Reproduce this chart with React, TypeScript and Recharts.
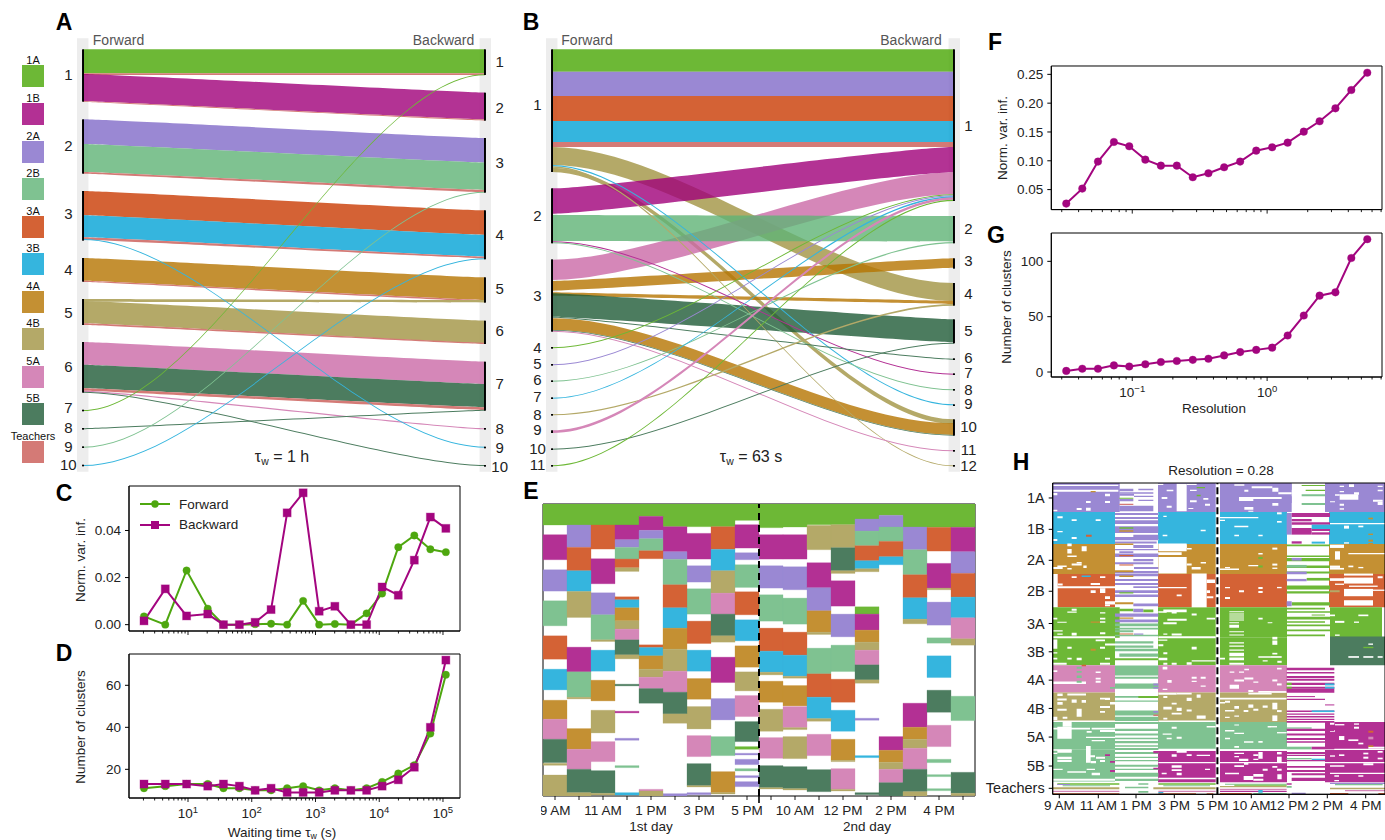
import React from "react";
import {
  ComposedChart,
  LineChart,
  Area,
  Bar,
  Cell,
  Line,
  Legend,
  XAxis,
  YAxis,
  ReferenceArea,
  ReferenceLine,
} from "recharts";

const FONT = "'Liberation Sans', Arial, sans-serif";
const INK = "#222222";
const GREEN = "#4ea70f";
const PURPLE = "#a3057f";

const classes = ["1A", "1B", "2A", "2B", "3A", "3B", "4A", "4B", "5A", "5B", "T"];
const classColors: Record<string, string> = {
  "1A": "#6db836",
  "1B": "#b33094",
  "2A": "#9a88d3",
  "2B": "#7fc291",
  "3A": "#d46235",
  "3B": "#35b5de",
  "4A": "#c49033",
  "4B": "#b4a968",
  "5A": "#d587b8",
  "5B": "#4c7c5f",
  T: "#d47a76",
};

// flows: class, forward top, forward bottom, backward top, backward bottom
const flowsA: [string, number, number, number, number][] = [
  ["1A", 148, 220, 148, 220],
  ["T", 220, 225, 220, 225],
  ["1B", 222, 304, 278, 358],
  ["T", 304, 306, 358, 362],
  ["2A", 358, 432, 414, 488],
  ["2B", 432, 516, 488, 570],
  ["T", 516, 521, 570, 577],
  ["3A", 573, 646, 631, 705],
  ["3B", 646, 712, 705, 770],
  ["T", 712, 719, 770, 775],
  ["4A", 774, 842, 832, 900],
  ["T", 842, 846, 900, 904],
  ["4B", 903, 970, 962, 1030],
  ["4B", 897, 905, 900, 908],
  ["T", 970, 975, 1028, 1032],
  ["5A", 1026, 1094, 1085, 1152],
  ["5B", 1094, 1165, 1152, 1222],
  ["T", 1165, 1172, 1222, 1230],
  ["5A", 1172, 1176, 1285, 1288],
  ["5B", 1175, 1178, 1395, 1398],
  ["3B", 717, 720, 1340, 1343],
  ["1A", 1230, 1233, 223, 226],
  ["5B", 1285, 1288, 1229, 1232],
  ["2B", 1340, 1343, 575, 578],
  ["3B", 1395, 1398, 775, 778],
];
const modulesLeftA = [[148, 305], [358, 521], [573, 722], [774, 845], [897, 975], [1026, 1178], [1229, 1234], [1284, 1289], [1339, 1344], [1394, 1399]];
const modulesRightA = [[148, 225], [278, 362], [414, 578], [631, 778], [832, 908], [962, 1032], [1085, 1232], [1284, 1289], [1340, 1345], [1395, 1400]];
const labelsLeftA = [226, 437, 643, 810, 938, 1100, 1225, 1285, 1340, 1395];
const labelsRightA = [185, 325, 490, 705, 868, 993, 1152, 1287, 1343, 1400];

const flowsB: [string, number, number, number, number][] = [
  ["1A", 148, 215, 148, 215],
  ["2A", 215, 288, 215, 288],
  ["3A", 288, 363, 288, 363],
  ["3B", 363, 426, 363, 426],
  ["T", 426, 441, 426, 441],
  ["4B", 441, 495, 849, 903],
  ["4B", 503, 516, 1258, 1272],
  ["5A", 779, 840, 517, 583],
  ["1B", 565, 641, 441, 517],
  ["2B", 645, 723, 648, 725],
  ["4A", 843, 872, 775, 803],
  ["4A", 877, 887, 903, 912],
  ["5B", 880, 950, 958, 1027],
  ["4A", 955, 990, 1270, 1305],
  ["5B", 990, 992, 1305, 1307],
  ["3B", 495, 499, 1213, 1216],
  ["4B", 499, 503, 1396, 1399],
  ["1B", 724, 727, 1121, 1124],
  ["2B", 727, 730, 1168, 1171],
  ["5B", 950, 953, 1076, 1079],
  ["5A", 992, 995, 1351, 1354],
  ["1A", 1042, 1045, 583, 586],
  ["2A", 1093, 1096, 586, 589],
  ["2B", 1142, 1145, 726, 730],
  ["3B", 1193, 1196, 589, 593],
  ["4B", 1243, 1246, 912, 917],
  ["5A", 1291, 1299, 592, 599],
  ["5B", 1346, 1349, 1028, 1031],
  ["1A", 1396, 1399, 599, 603],
];
const modulesLeftB = [[148, 516], [565, 730], [778, 995], [1041, 1046], [1092, 1097], [1141, 1146], [1192, 1197], [1242, 1247], [1291, 1299], [1345, 1350], [1395, 1400]];
const modulesRightB = [[148, 603], [648, 730], [775, 806], [849, 917], [958, 1030], [1075, 1080], [1120, 1125], [1167, 1172], [1213, 1218], [1258, 1307], [1350, 1355], [1395, 1400]];
const labelsLeftB = [315, 648, 888, 1045, 1093, 1140, 1192, 1245, 1290, 1347, 1395];
const labelsRightB = [378, 688, 782, 882, 993, 1073, 1120, 1170, 1213, 1280, 1350, 1399];

const waitingTimes = [2.04, 4.4, 9.5, 20.4, 36, 64, 113, 201, 359, 640, 1142, 2014, 3590, 6340, 11100, 19900, 35500, 63400, 111000];
const nviForward = [0.0035, 0, 0.023, 0.0068, 0, 0, 0.0002, 0.0004, 0, 0.0101, 0, 0.0003, 0, 0.0048, 0.0132, 0.0329, 0.0379, 0.032, 0.0308];
const nviBackward = [0.0016, 0.0152, 0.0037, 0.0045, 0, 0, 0.001, 0.0064, 0.0475, 0.056, 0.0057, 0.0078, 0, 0, 0.016, 0.0125, 0.0274, 0.0457, 0.0409];
const clustersForward = [11, 12, 13, 13, 11, 11, 10, 10, 11, 12, 10, 11, 10, 11, 14, 18, 22, 37, 65];
const clustersBackward = [13, 13, 13, 12, 13, 12, 10, 11, 9, 9, 9, 10, 10, 10, 12, 15, 21, 40, 72];
const waitingTicks = [2, 3, 4, 5, 6, 7, 8, 9, 10, 20, 30, 40, 50, 60, 70, 80, 90, 100, 200, 300, 400, 500, 600, 700, 800, 900, 1000, 2000, 3000, 4000, 5000, 6000, 7000, 8000, 9000, 10000, 20000, 30000, 40000, 50000, 60000, 70000, 80000, 90000, 100000];

const resolutions = [0.0324, 0.0426, 0.0557, 0.0731, 0.095, 0.125, 0.163, 0.214, 0.281, 0.367, 0.48, 0.631, 0.83, 1.09, 1.42, 1.87, 2.45, 3.21, 4.21, 5.53];
const resolutionNvi = [0.0257, 0.0517, 0.0986, 0.1327, 0.1251, 0.102, 0.0916, 0.0916, 0.0714, 0.0783, 0.0887, 0.0986, 0.1176, 0.1234, 0.1315, 0.1506, 0.1685, 0.191, 0.2228, 0.2529];
const resolutionClusters = [1, 3, 3, 6, 5, 7, 9, 10, 11, 12, 15, 18, 20, 22, 33, 51, 69, 72, 103, 120];
const resolutionTicks = [0.03, 0.04, 0.05, 0.06, 0.07, 0.08, 0.09, 0.1, 0.2, 0.3, 0.4, 0.5, 0.6, 0.7, 0.8, 0.9, 1, 2, 3, 4, 5, 6, 7];

// panel E: per time slot, the community blocks from top to bottom
const slotBlocks: [string, number, number][][] = [
  [["1A", 43, 106], ["1B", 135, 210], ["2A", 240, 304], ["2B", 333, 408], ["3A", 438, 508], ["3B", 538, 600], ["4A", 631, 688], ["5A", 688, 748], ["5B", 748, 818], ["4B", 820, 826], ["4B", 855, 918]],
  [["1A", 43, 106], ["2A", 106, 173], ["3A", 173, 243], ["3B", 243, 305], ["4B", 305, 383], ["1B", 472, 546], ["2B", 546, 622], ["4B", 622, 627], ["4A", 716, 778], ["5A", 778, 838], ["5B", 838, 908], ["4B", 908, 918]],
  [["1A", 43, 106], ["3A", 106, 178], ["1B", 207, 282], ["2A", 309, 375], ["2B", 375, 450], ["4B", 450, 455], ["3B", 481, 544], ["4A", 571, 633], ["4B", 661, 729], ["5A", 755, 815], ["5B", 842, 910], ["4B", 910, 915]],
  [["1A", 43, 106], ["1B", 106, 150], ["2A", 150, 173], ["2B", 173, 208], ["3A", 208, 234], ["4B", 234, 245], ["3A", 321, 330], ["3B", 330, 354], ["4A", 354, 393], ["4B", 393, 418], ["5A", 418, 450], ["5B", 450, 495], ["4B", 495, 507], ["5B", 583, 588], ["1B", 664, 669], ["2A", 745, 751], ["2B", 827, 833], ["3B", 908, 915]],
  [["1A", 43, 80], ["1B", 80, 122], ["2A", 122, 147], ["2B", 147, 183], ["3A", 183, 207], ["3A", 465, 473], ["3B", 473, 498], ["4A", 498, 538], ["4B", 538, 562], ["5A", 562, 596], ["5B", 596, 640], ["5A", 898, 903], ["4B", 903, 918]],
  [["1A", 43, 111], ["1B", 111, 186], ["2A", 186, 209], ["2B", 209, 285], ["3A", 285, 354], ["3B", 354, 415], ["4A", 415, 478], ["4B", 478, 544], ["5A", 544, 607], ["5B", 607, 672], ["4B", 672, 700], ["2A", 911, 918]],
  [["1A", 43, 111], ["1B", 131, 208], ["2A", 228, 277], ["2B", 297, 373], ["3A", 394, 461], ["3B", 481, 544], ["4A", 566, 628], ["4B", 650, 717], ["5A", 737, 800], ["5B", 821, 887], ["4B", 887, 891], ["2A", 908, 914]],
  [["1A", 43, 111], ["3A", 111, 179], ["3B", 179, 243], ["4B", 243, 310], ["5A", 310, 373], ["5B", 373, 438], ["4B", 438, 457], ["1B", 502, 578], ["2A", 626, 690], ["2B", 740, 797], ["4A", 845, 908], ["4B", 908, 912]],
  [["1A", 43, 92], ["1B", 105, 175], ["2A", 189, 210], ["2B", 225, 293], ["3A", 306, 375], ["3B", 390, 453], ["4A", 468, 532], ["4B", 546, 603], ["5A", 617, 680], ["5B", 695, 755], ["1A", 770, 778], ["2A", 790, 795], ["2A", 808, 824], ["2B", 836, 843], ["2A", 857, 863], ["2A", 875, 890]],
  [["1A", 43, 114], ["1B", 135, 208], ["2A", 228, 295], ["2B", 315, 394], ["3A", 415, 484], ["3B", 484, 547], ["4B", 547, 555], ["4A", 574, 637], ["4B", 658, 724], ["5A", 743, 805], ["5B", 827, 893], ["4B", 893, 897]],
  [["1A", 43, 112], ["1B", 135, 208], ["2A", 231, 300], ["2B", 325, 403], ["3A", 427, 496], ["3B", 496, 559], ["4B", 559, 565], ["4A", 587, 648], ["5A", 650, 713], ["4B", 713, 719], ["4B", 740, 806], ["5B", 830, 896], ["4B", 896, 900]],
  [["1A", 43, 105], ["4B", 107, 180], ["1B", 219, 294], ["2A", 294, 363], ["4A", 363, 427], ["4B", 427, 434], ["2B", 475, 552], ["3A", 552, 622], ["3B", 622, 686], ["4B", 686, 694], ["5A", 733, 797], ["5B", 839, 905]],
  [["1A", 43, 105], ["4B", 105, 174], ["5B", 174, 243], ["4B", 243, 251], ["1B", 273, 349], ["2A", 373, 441], ["2B", 466, 545], ["3A", 568, 637], ["3B", 661, 724], ["4A", 748, 811], ["4B", 811, 815], ["5A", 836, 898], ["4B", 898, 903]],
  [["1A", 43, 88], ["2A", 88, 124], ["2B", 124, 168], ["3A", 168, 213], ["3B", 213, 237], ["4B", 237, 246], ["1A", 351, 373], ["1B", 373, 421], ["4A", 421, 457], ["4B", 457, 481], ["5A", 481, 525], ["5B", 525, 570], ["4B", 570, 580], ["2A", 685, 691], ["3B", 797, 803], ["5B", 908, 914]],
  [["1A", 43, 77], ["2A", 77, 112], ["2B", 112, 155], ["3A", 155, 201], ["3B", 201, 225], ["1B", 740, 781], ["4A", 781, 817], ["4B", 817, 838], ["5A", 838, 878], ["5B", 878, 918]],
  [["1A", 43, 112], ["2A", 112, 180], ["2B", 180, 255], ["3A", 255, 324], ["3B", 324, 388], ["4B", 388, 402], ["1B", 640, 712], ["4A", 712, 748], ["4B", 748, 775], ["5A", 775, 838], ["5B", 838, 905], ["4B", 905, 918]],
  [["1A", 43, 113], ["3A", 113, 184], ["1B", 221, 295], ["4B", 295, 300], ["2A", 337, 406], ["2B", 444, 460], ["3B", 498, 563], ["5B", 601, 667], ["5A", 706, 770], ["2B", 808, 818], ["2B", 854, 860], ["2B", 896, 902]],
  [["1A", 43, 113], ["1B", 113, 186], ["2A", 186, 251], ["3A", 251, 322], ["3B", 322, 384], ["5A", 384, 447], ["4B", 447, 466], ["2B", 619, 692], ["5B", 847, 910], ["4B", 910, 917]],
];
const slotLabels = ["9 AM", "", "11 AM", "", "1 PM", "", "3 PM", "", "5 PM", "", "10 AM", "", "12 PM", "", "2 PM", "", "4 PM", ""];

// panel H: students (rows) against time
const hBlocks: [string, number, number, number, number][] = [
  ["2A", 0.7, 67.7, 0.3, 29.3], ["2A", 106, 163.7, 0.3, 29.3], ["2A", 168, 239.7, 0.3, 29.3], ["2A", 273, 333, 0.3, 29.3],
  ["3B", 0.7, 63, 29.3, 61.3], ["3B", 106, 163.7, 29.3, 61.3], ["3B", 168, 235, 29.3, 61.3], ["3B", 277, 333, 29.3, 61.3],
  ["4A", 0.7, 63, 61.3, 91.3], ["4A", 106, 163.7, 61.3, 91.3], ["4A", 168, 235, 61.3, 91.3], ["4A", 277, 333, 61.3, 91.3],
  ["3A", 5.7, 63, 91.3, 124.7], ["3A", 106, 163.7, 91.3, 124.7], ["3A", 168, 235, 91.3, 124.7], ["3A", 277, 333, 91.3, 124.7],
  ["1A", 0.7, 67.7, 124.7, 155.3], ["1A", 106, 163.7, 124.7, 155.3], ["1A", 168, 235, 124.7, 155.3], ["1A", 278, 330, 124.7, 155.3],
  ["1A", 0.7, 63, 155.3, 182.7], ["1A", 106, 163.7, 155.3, 182.7], ["1A", 168, 235, 155.3, 182.7], ["5B", 278, 333, 154, 182.7],
  ["5A", 0.7, 63, 182.7, 210], ["5A", 106, 163.7, 182.7, 210], ["5A", 168, 235, 182.7, 210],
  ["4B", 0.7, 63, 210, 239.7], ["4B", 106, 163.7, 210, 239.7], ["4B", 168, 235, 210, 239.7],
  ["2B", 0.7, 63, 239.7, 267], ["2B", 106, 163.7, 239.7, 267], ["2B", 168, 235, 239.7, 267],
  ["2B", 0.7, 63, 267, 299.3], ["1B", 106, 163.7, 268.7, 300], ["1B", 168, 235, 268.7, 300],
  ["1B", 273, 333, 239.7, 300],
];
type Patch = [number, number, number, number];
type Tinted = [string, number, number, number, number];
const hNorthWest: { origin: number[]; white: Patch[]; tinted: Tinted[] } = {
  origin: [-2, -3],
  white: [
    [8, 205, 15, 19], [8, 205, 30, 36], [165, 180, 42, 50], [8, 22, 40, 47], [108, 122, 64, 70], [165, 180, 64, 70], [80, 95, 85, 91], [108, 122, 84, 93], [8, 22, 90, 95],
    [380, 410, 12, 95], [310, 340, 12, 16], [350, 370, 30, 35], [335, 352, 52, 58], [350, 365, 78, 84], [410, 440, 12, 16], [420, 440, 30, 34], [460, 475, 55, 60], [420, 440, 62, 68], [465, 480, 72, 78], [415, 430, 85, 88],
    [22, 38, 110, 116], [65, 80, 119, 124], [137, 152, 119, 124], [22, 38, 154, 158], [8, 22, 178, 184], [65, 80, 172, 178], [310, 325, 99, 106], [340, 350, 108, 112], [452, 467, 150, 155], [338, 352, 165, 170], [310, 325, 178, 182],
    [52, 65, 192, 200], [52, 65, 208, 222], [95, 110, 200, 215], [52, 80, 228, 232], [80, 95, 247, 252], [65, 95, 252, 258], [22, 50, 258, 262], [8, 38, 262, 268], [100, 110, 258, 265], [52, 65, 265, 270],
    [325, 410, 192, 215], [310, 395, 218, 226], [325, 410, 232, 282], [395, 410, 195, 205], [410, 425, 205, 210], [410, 425, 252, 258], [452, 468, 247, 252], [425, 452, 262, 270],
    [65, 80, 290, 295], [150, 166, 290, 295], [8, 205, 320, 326], [23, 38, 312, 318], [122, 150, 310, 316], [150, 166, 326, 340], [122, 137, 332, 340], [165, 180, 350, 358], [165, 195, 365, 375], [165, 180, 375, 380],
    [425, 470, 282, 383], [325, 410, 322, 326], [380, 395, 345, 350], [470, 495, 300, 310], [470, 480, 332, 340], [470, 490, 350, 356],
    [65, 80, 388, 394], [52, 80, 396, 400], [150, 166, 398, 402], [150, 166, 415, 420], [150, 166, 425, 430], [22, 50, 427, 430], [8, 22, 415, 420], [8, 38, 452, 456], [22, 38, 462, 466], [65, 80, 460, 468], [150, 166, 458, 464], [8, 195, 470, 476], [325, 497, 470, 476],
    [325, 350, 395, 400], [340, 410, 390, 398], [365, 380, 395, 402], [352, 410, 418, 424], [340, 380, 428, 434], [425, 440, 402, 408], [340, 352, 462, 466], [365, 395, 462, 468], [470, 495, 415, 420],
  ],
  tinted: [
    ["4A", 122, 137, 34, 38], ["1A", 440, 465, 22, 26], ["1A", 440, 452, 45, 50], ["3B", 95, 122, 288, 292], ["3A", 108, 125, 165, 171], ["4A", 122, 150, 426, 430],
    ["2A", 208, 250, 27, 35], ["2A", 265, 310, 27, 32], ["2A", 208, 310, 38, 42], ["2A", 208, 252, 42, 48], ["2A", 252, 310, 48, 52], ["2A", 208, 250, 58, 65], ["2A", 265, 310, 60, 64], ["2A", 208, 310, 78, 95], ["1A", 208, 250, 54, 57], ["T", 208, 250, 72, 76],
    ["2A", 195, 325, 100, 106], ["2A", 195, 325, 112, 118], ["2A", 195, 325, 122, 133], ["2A", 195, 325, 140, 160], ["1A", 208, 250, 143, 147], ["4A", 208, 250, 152, 156], ["2A", 250, 325, 165, 172], ["2A", 195, 325, 172, 182], ["2A", 195, 320, 186, 192],
    ["4A", 195, 250, 192, 196], ["2A", 250, 310, 196, 205], ["2A", 195, 325, 208, 212], ["2A", 208, 250, 215, 220], ["2A", 195, 325, 222, 232], ["3A", 208, 250, 226, 230], ["2A", 250, 310, 238, 245], ["2A", 195, 310, 248, 254], ["3A", 208, 250, 255, 258], ["2A", 252, 325, 262, 268], ["2A", 195, 325, 274, 280], ["4A", 195, 250, 272, 278],
    ["2A", 195, 325, 282, 290], ["4A", 208, 250, 288, 292], ["2A", 195, 325, 298, 304], ["2A", 195, 325, 310, 316], ["2A", 250, 325, 320, 325], ["2A", 195, 325, 332, 340], ["1A", 208, 250, 338, 342], ["2A", 195, 325, 345, 352], ["4A", 195, 250, 368, 374], ["2A", 250, 325, 372, 380],
    ["1A", 208, 250, 388, 395], ["2A", 250, 280, 388, 398], ["1A", 280, 310, 390, 398], ["2A", 195, 325, 402, 412], ["4A", 208, 250, 414, 418], ["2A", 195, 325, 420, 428], ["2B", 195, 325, 432, 440], ["2B", 195, 325, 445, 450], ["2B", 195, 250, 452, 458], ["3A", 208, 250, 462, 465], ["2A", 252, 280, 462, 466], ["2B", 195, 325, 466, 470],
  ],
};
const hNorthEast: { origin: number[]; white: Patch[]; tinted: Tinted[] } = {
  origin: [163, -3],
  white: [
    [58, 88, 14, 18], [88, 100, 30, 36], [172, 190, 24, 36], [190, 230, 38, 44], [110, 172, 20, 26], [72, 200, 52, 58], [72, 115, 58, 64], [172, 190, 70, 78], [88, 115, 82, 90], [100, 115, 93, 96],
    [15, 130, 112, 116], [58, 100, 138, 143], [186, 200, 98, 104], [186, 200, 124, 129], [58, 72, 165, 170], [130, 143, 165, 170], [15, 30, 120, 124],
    [172, 187, 204, 210], [130, 143, 220, 225], [100, 130, 256, 260], [172, 187, 252, 258], [172, 187, 264, 268], [30, 45, 262, 266], [15, 72, 267, 271],
    [30, 45, 322, 326], [72, 87, 332, 338], [130, 143, 322, 328], [130, 143, 334, 340], [186, 200, 322, 326], [30, 45, 352, 358],
    [43, 87, 395, 398], [43, 87, 402, 405], [43, 87, 408, 411], [43, 87, 414, 417], [43, 87, 420, 423], [43, 72, 428, 431], [43, 72, 436, 445], [43, 87, 455, 458], [43, 87, 465, 468], [130, 143, 415, 420], [158, 172, 428, 431], [172, 187, 472, 480],
    [345, 387, 195, 205], [360, 375, 215, 240], [345, 375, 258, 265], [400, 415, 258, 263], [430, 445, 262, 266], [400, 510, 220, 224], [345, 387, 265, 270],
    [345, 510, 130, 134], [387, 402, 138, 147], [430, 445, 138, 143], [387, 402, 188, 192],
    [374, 387, 18, 22], [402, 417, 14, 22], [488, 503, 18, 22], [374, 387, 34, 38], [360, 374, 44, 48], [417, 432, 38, 45], [374, 430, 44, 60], [488, 503, 30, 35], [474, 503, 60, 66], [488, 503, 66, 76], [374, 387, 72, 78], [374, 387, 86, 90], [345, 360, 65, 68],
    [387, 474, 282, 288], [387, 474, 294, 312], [387, 474, 328, 350], [387, 474, 362, 378], [345, 387, 296, 304], [488, 503, 290, 296], [360, 387, 312, 316], [474, 510, 330, 334], [402, 488, 318, 322],
    [345, 360, 405, 410], [430, 460, 405, 410], [360, 388, 424, 430], [417, 432, 426, 430], [360, 374, 465, 469],
  ],
  tinted: [
    ["1A", 130, 143, 232, 238], ["1A", 130, 143, 258, 264], ["4A", 460, 474, 114, 119], ["4A", 460, 474, 162, 166], ["4A", 460, 474, 180, 186], ["4A", 460, 474, 190, 194], ["4B", 345, 374, 332, 338],
    ["1A", 260, 330, 16, 19], ["1A", 272, 330, 30, 34], ["2B", 260, 330, 44, 50], ["2B", 260, 330, 70, 76], ["2A", 215, 230, 12, 30], ["2A", 215, 230, 50, 70],
    ["2A", 215, 230, 100, 165], ["1B", 230, 345, 100, 112], ["1B", 230, 290, 118, 125], ["1B", 230, 345, 128, 135], ["1B", 230, 290, 145, 165], ["1B", 290, 345, 148, 154], ["1B", 290, 345, 158, 165], ["3B", 290, 345, 135, 148], ["1B", 230, 260, 185, 192], ["3B", 290, 330, 186, 192],
    ["1A", 215, 345, 195, 200], ["1A", 215, 345, 228, 232], ["1A", 215, 345, 235, 245], ["2A", 230, 260, 235, 243], ["1A", 215, 345, 258, 265], ["2B", 215, 275, 256, 264], ["1A", 215, 345, 276, 282], ["2A", 215, 275, 276, 284],
    ["1A", 275, 345, 295, 303], ["2A", 215, 275, 298, 305], ["1A", 215, 345, 318, 330], ["1A", 215, 345, 335, 342], ["1A", 230, 345, 368, 378], ["2A", 215, 230, 365, 380],
    ["1A", 215, 330, 385, 390], ["1A", 215, 345, 395, 400], ["1A", 290, 330, 405, 408], ["1A", 215, 345, 412, 420], ["1A", 215, 330, 425, 430], ["1A", 215, 345, 435, 440], ["1A", 215, 345, 450, 455], ["1A", 215, 330, 465, 470],
  ],
};
const hSouthWest: { origin: number[]; white: Patch[]; tinted: Tinted[] } = {
  origin: [-2, 157],
  white: [
    [8, 22, 0, 28], [52, 65, 22, 28], [137, 165, 0, 5], [165, 195, 12, 18], [150, 165, 22, 28], [8, 22, 38, 42], [8, 22, 55, 60], [52, 65, 55, 60], [80, 95, 55, 62], [165, 180, 55, 60], [8, 50, 70, 76], [150, 180, 70, 76],
    [8, 22, 92, 98], [137, 152, 96, 101], [137, 152, 115, 120], [137, 152, 124, 130], [8, 108, 126, 134],
    [22, 38, 162, 170], [52, 108, 162, 168], [165, 180, 175, 182], [22, 50, 177, 183], [65, 80, 180, 190], [95, 108, 182, 190], [150, 165, 175, 180], [22, 38, 188, 196], [180, 195, 188, 195], [150, 180, 200, 206], [22, 50, 208, 214], [80, 95, 208, 232], [150, 165, 215, 220], [38, 52, 232, 238], [8, 22, 232, 242], [8, 195, 243, 248],
    [38, 65, 248, 262], [22, 65, 262, 298], [8, 120, 265, 270], [125, 195, 265, 270], [110, 125, 275, 280], [150, 195, 272, 278], [108, 195, 292, 296], [125, 165, 302, 306], [8, 65, 330, 334],
    [108, 122, 320, 370], [22, 65, 332, 340], [22, 65, 352, 360], [22, 65, 362, 368], [108, 135, 348, 354], [122, 138, 365, 372], [8, 22, 340, 344], [138, 165, 352, 358], [8, 38, 388, 392], [52, 108, 396, 400], [110, 135, 388, 392], [125, 150, 400, 408], [150, 165, 362, 368], [8, 195, 418, 424],
    [380, 410, 335, 340], [365, 380, 345, 352], [410, 425, 345, 350], [440, 480, 346, 350], [325, 497, 368, 372], [365, 395, 378, 385], [365, 395, 390, 395], [335, 350, 400, 405], [380, 395, 400, 408], [325, 497, 415, 420], [465, 480, 388, 392],
    [325, 352, 0, 4], [325, 340, 14, 20], [425, 440, 22, 30], [340, 352, 38, 44], [325, 352, 55, 62], [410, 425, 68, 76], [365, 380, 70, 76], [340, 352, 70, 76], [425, 497, 62, 66],
    [338, 352, 82, 90], [425, 440, 112, 118], [452, 467, 112, 118], [352, 365, 122, 130], [425, 440, 124, 128], [452, 467, 138, 142], [338, 352, 148, 152],
    [325, 380, 160, 166], [380, 425, 160, 165], [340, 352, 170, 176], [410, 425, 175, 185], [440, 452, 165, 175], [365, 380, 190, 195], [340, 365, 202, 210], [380, 395, 205, 215], [410, 425, 210, 216], [365, 395, 220, 225], [340, 352, 235, 240], [440, 467, 228, 238], [325, 497, 243, 248],
    [365, 380, 262, 268], [380, 395, 292, 298], [338, 365, 282, 286], [350, 365, 295, 300], [470, 497, 260, 264], [325, 497, 328, 332],
  ],
  tinted: [
    ["2B", 80, 95, 82, 88], ["2B", 80, 95, 95, 100], ["2B", 80, 95, 108, 116], ["2B", 80, 95, 124, 130], ["2B", 180, 195, 143, 148], ["4A", 122, 137, 28, 34], ["3A", 95, 108, 76, 80],
    ["1B", 165, 180, 345, 350], ["1B", 180, 195, 365, 370], ["1B", 180, 195, 392, 398],
    ["2B", 195, 310, 5, 12], ["2B", 195, 310, 18, 25], ["2B", 195, 325, 28, 35], ["2B", 208, 325, 42, 52], ["1A", 195, 325, 56, 62],
    ["2B", 195, 325, 78, 108], ["2B", 195, 325, 112, 118], ["2B", 195, 325, 132, 148], ["2B", 195, 325, 170, 175], ["1A", 265, 325, 170, 176], ["2B", 195, 325, 183, 187], ["2B", 195, 325, 213, 228], ["2B", 195, 325, 232, 245],
    ["2B", 195, 325, 248, 254], ["2B", 195, 325, 268, 275], ["2B", 195, 325, 282, 288], ["2B", 195, 325, 295, 300], ["2B", 195, 325, 305, 312], ["2B", 195, 325, 318, 322], ["2B", 195, 325, 326, 332],
    ["2B", 195, 325, 338, 344], ["2B", 195, 325, 352, 356], ["2B", 195, 325, 362, 366], ["2B", 195, 325, 376, 382], ["2B", 195, 325, 388, 392], ["2B", 195, 325, 400, 412], ["2B", 195, 325, 418, 425],
    ["2A", 310, 325, 132, 138], ["2A", 310, 325, 143, 147], ["2A", 310, 325, 215, 220], ["T", 310, 325, 225, 230], ["1B", 310, 325, 335, 342], ["1B", 310, 325, 385, 390],
    ["1A", 22, 208, 432, 436], ["2A", 22, 60, 434, 437], ["2B", 38, 180, 438, 441], ["4B", 8, 208, 444, 450], ["5A", 8, 208, 454, 458], ["3A", 8, 208, 462, 466],
    ["2B", 265, 295, 432, 436], ["2B", 225, 295, 442, 447], ["2B", 265, 295, 455, 460],
    ["1A", 325, 497, 432, 436], ["2B", 340, 480, 438, 441], ["4B", 310, 497, 444, 450], ["5A", 325, 497, 454, 458], ["3A", 325, 438, 462, 466], ["3A", 470, 490, 462, 466], ["3B", 325, 340, 458, 462],
  ],
};
const hSouthEast: { origin: number[]; white: Patch[]; tinted: Tinted[] } = {
  origin: [163, 157],
  white: [
    [43, 87, 8, 12], [43, 87, 18, 22], [43, 87, 30, 34], [43, 87, 40, 50], [43, 87, 54, 62], [43, 87, 70, 76], [172, 187, 3, 16], [130, 200, 50, 55], [172, 187, 40, 45], [143, 158, 62, 66], [187, 200, 64, 70], [15, 30, 55, 60],
    [88, 102, 88, 92], [72, 87, 96, 100], [44, 58, 96, 100], [58, 87, 120, 126], [88, 115, 114, 120], [115, 130, 126, 130], [44, 72, 136, 148], [186, 200, 85, 90], [172, 187, 120, 126], [186, 200, 132, 138], [100, 115, 152, 158], [130, 215, 155, 160],
    [15, 215, 175, 180], [100, 170, 160, 165], [15, 30, 188, 192], [58, 72, 200, 208], [30, 45, 184, 190], [100, 115, 195, 205], [143, 158, 198, 205], [172, 187, 190, 210], [186, 200, 212, 218], [30, 58, 212, 216], [58, 72, 228, 232], [86, 100, 212, 218], [172, 187, 228, 245], [115, 130, 208, 214], [30, 44, 232, 236],
    [58, 72, 255, 258], [158, 186, 260, 264], [30, 58, 272, 276], [58, 87, 280, 284], [186, 215, 278, 282], [30, 45, 295, 300], [87, 115, 306, 310], [130, 143, 305, 310], [58, 72, 320, 325], [15, 215, 330, 335],
    [58, 87, 340, 344], [58, 72, 350, 354], [115, 130, 345, 350], [130, 143, 338, 358], [186, 200, 338, 345], [186, 200, 352, 370], [72, 100, 358, 365], [115, 130, 358, 362], [15, 215, 368, 372], [87, 100, 368, 376], [172, 187, 380, 385], [58, 87, 378, 383], [143, 158, 388, 394], [186, 200, 388, 394], [30, 72, 400, 405], [86, 115, 410, 422], [115, 145, 404, 412], [115, 145, 418, 424], [187, 200, 405, 420],
    [400, 432, 50, 55], [445, 475, 50, 55], [488, 503, 50, 55], [460, 474, 12, 16],
    [345, 358, 248, 256], [360, 388, 254, 258], [417, 432, 252, 256], [417, 432, 262, 268], [345, 360, 272, 277], [372, 388, 290, 302], [400, 430, 300, 305], [430, 445, 310, 315], [460, 510, 322, 328], [330, 510, 328, 332],
    [345, 360, 348, 352], [372, 388, 345, 350], [445, 460, 340, 345], [445, 460, 352, 358], [488, 503, 335, 340], [488, 503, 355, 360], [330, 510, 368, 372], [345, 388, 378, 382], [445, 475, 372, 378], [345, 510, 400, 404], [358, 372, 408, 412], [358, 372, 422, 426], [430, 445, 408, 412],
  ],
  tinted: [
    ["1A", 445, 475, 22, 26],
    ["3A", 460, 475, 274, 280], ["5A", 460, 475, 292, 300], ["4A", 460, 475, 318, 323],
    ["1B", 215, 358, 85, 92], ["1B", 215, 358, 98, 102], ["1B", 215, 358, 110, 116], ["1B", 215, 358, 118, 124], ["1B", 215, 358, 130, 137], ["1A", 215, 230, 130, 137], ["3B", 330, 358, 132, 138], ["1B", 215, 358, 142, 148], ["1A", 215, 230, 142, 148], ["3B", 330, 358, 142, 148], ["1B", 330, 358, 148, 160], ["1B", 215, 330, 148, 160], ["1B", 215, 300, 170, 173], ["1B", 215, 330, 178, 182], ["1B", 330, 358, 195, 198],
    ["1B", 215, 358, 213, 218], ["3B", 290, 358, 213, 218], ["1B", 215, 358, 222, 226], ["1B", 215, 358, 230, 234], ["1B", 215, 358, 238, 242], ["1B", 215, 358, 245, 250],
    ["2B", 215, 290, 264, 268], ["1B", 215, 358, 268, 275], ["1B", 215, 358, 282, 288], ["1B", 215, 330, 296, 302], ["1B", 215, 358, 306, 310], ["2B", 215, 290, 322, 330], ["1B", 290, 358, 322, 330],
    ["1B", 215, 345, 338, 344], ["1B", 215, 345, 346, 350], ["2B", 215, 290, 356, 360], ["3B", 290, 330, 358, 362], ["1B", 215, 358, 362, 366], ["1B", 215, 330, 380, 385], ["1B", 215, 330, 392, 398], ["1B", 230, 330, 402, 408], ["1B", 230, 330, 415, 425],
    ["2B", 30, 215, 433, 436], ["1A", 58, 215, 436, 439], ["4B", 15, 215, 440, 444], ["5A", 15, 215, 448, 452], ["1B", 15, 215, 454, 458], ["3B", 130, 143, 452, 460], ["3A", 15, 110, 461, 465], ["2B", 115, 215, 461, 465],
    ["1B", 215, 230, 432, 436], ["2B", 215, 230, 440, 445], ["2A", 230, 272, 460, 464],
    ["2A", 345, 510, 430, 434], ["2B", 360, 503, 434, 438], ["4B", 345, 510, 445, 450], ["5A", 390, 510, 452, 456], ["3A", 345, 400, 461, 465], ["3A", 490, 510, 461, 465],
  ],
};
const hRowTicks = [15.3, 46.7, 77.7, 108.7, 141, 169.3, 197.7, 226, 254.7, 283.7, 306];
const hRowLabels = ["1A", "1B", "2A", "2B", "3A", "3B", "4A", "4B", "5A", "5B", "Teachers"];
const hTimeTicks = [7.3, 46.3, 84, 122.3, 160.7, 199.3, 237, 275.3, 313.7];
const hTimeLabels = ["9 AM", "11 AM", "1 PM", "3 PM", "5 PM", "10 AM", "12 PM", "2 PM", "4 PM"];

// alluvial ribbon: nearly straight for small drops, S-shaped for big ones
class FlowCurve {
  _context: any;
  _line = NaN;
  _point = 0;
  _x0 = 0;
  _y0 = 0;
  constructor(context: any) {
    this._context = context;
  }
  areaStart() {
    this._line = 0;
  }
  areaEnd() {
    this._line = NaN;
  }
  lineStart() {
    this._point = 0;
  }
  lineEnd() {
    if (this._line || (this._line !== 0 && this._point === 1)) this._context.closePath();
    this._line = 1 - this._line;
  }
  point(x: number, y: number) {
    if (this._point === 0) {
      this._point = 1;
      if (this._line) this._context.lineTo(x, y);
      else this._context.moveTo(x, y);
    } else {
      const bend = Math.min(0.3, Math.abs(y - this._y0) / 350);
      const dx = (x - this._x0) * bend;
      this._context.bezierCurveTo(this._x0 + dx, this._y0, x - dx, y, x, y);
    }
    this._x0 = x;
    this._y0 = y;
  }
}
const flowCurve: any = (context: any) => new FlowCurve(context);

// ribbons are see-through, so pick the fill that still looks like the class colour on white
const RIBBON_ALPHA = 0.8;
function ribbonFill(hex: string) {
  const parts = [1, 3, 5].map((i) => parseInt(hex.slice(i, i + 2), 16));
  const solved = parts.map((c) => Math.max(0, Math.round((c - (1 - RIBBON_ALPHA) * 255) / RIBBON_ALPHA)));
  return `rgb(${solved.join(",")})`;
}

function Note({ x, y, size = 13.5, rotate = 0, color = INK, bold = false, children }: any) {
  return (
    <div
      style={{
        position: "absolute",
        left: x,
        top: y,
        transform: `translate(-50%, -50%) rotate(${rotate}deg)`,
        fontSize: size,
        fontWeight: bold ? 700 : 400,
        color,
        whiteSpace: "nowrap",
        lineHeight: 1,
      }}
    >
      {children}
    </div>
  );
}

function Tau({ value }: { value: string }) {
  return (
    <span>
      τ<sub style={{ fontSize: "0.65em", verticalAlign: "-0.25em" }}>w</sub> = {value}
    </span>
  );
}

function Alluvial({ left, flows, modulesLeft, modulesRight, labelsLeft, labelsRight, labelShift }: any) {
  const rows = [0, 1].map((side) => {
    const row: any = { x: side };
    flows.forEach((f: any, i: number) => {
      row[`f${i}`] = side === 0 ? [f[1], f[2]] : [f[3], f[4]];
    });
    return row;
  });
  const moduleTick = (labels: number[], dx: number) => (props: any) => (
    <text x={props.x + dx} y={props.y + 5} textAnchor="middle" fontSize={15} fill={INK} fontFamily={FONT}>
      {labels.indexOf(props.payload.value) + 1}
    </text>
  );
  return (
    <div style={{ position: "absolute", left, top: 0 }}>
      <ComposedChart width={484} height={480} data={rows} margin={{ top: 0, right: 0, bottom: 0, left: 0 }}>
        <XAxis dataKey="x" type="number" domain={[-0.015, 1.015]} allowDataOverflow hide />
        <YAxis yAxisId="l" width={40} reversed type="number" domain={[0, 1440]} allowDataOverflow ticks={labelsLeft} interval={0} axisLine={false} tickLine={false} tickSize={0} tickMargin={0} tick={moduleTick(labelsLeft, -labelShift)} />
        <YAxis yAxisId="r" orientation="right" width={30} reversed type="number" domain={[0, 1440]} allowDataOverflow ticks={labelsRight} interval={0} axisLine={false} tickLine={false} tickSize={0} tickMargin={0} tick={moduleTick(labelsRight, labelShift)} />
        <ReferenceArea yAxisId="l" x1={-0.015} x2={0.0135} y1={115} y2={1415} fill="#ededed" fillOpacity={1} stroke="none" />
        <ReferenceArea yAxisId="l" x1={0.9865} x2={1.015} y1={115} y2={1415} fill="#ededed" fillOpacity={1} stroke="none" />
        {flows.map((f: any, i: number) => {
          const thin = f[2] - f[1] < 10;
          return (
            <Area
              key={i}
              yAxisId="l"
              dataKey={`f${i}`}
              type={flowCurve}
              fill={thin ? classColors[f[0]] : ribbonFill(classColors[f[0]])}
              fillOpacity={thin ? 1 : RIBBON_ALPHA}
              stroke="none"
              dot={false}
              activeDot={false}
              isAnimationActive={false}
            />
          );
        })}
        {modulesLeft.map((m: number[], i: number) => (
          <ReferenceLine key={i} yAxisId="l" segment={[{ x: 0, y: m[0] }, { x: 0, y: m[1] }]} stroke="#000" strokeWidth={2} />
        ))}
        {modulesRight.map((m: number[], i: number) => (
          <ReferenceLine key={i} yAxisId="l" segment={[{ x: 1, y: m[0] }, { x: 1, y: m[1] }]} stroke="#000" strokeWidth={2} />
        ))}
      </ComposedChart>
    </div>
  );
}

function logTick(labels: boolean) {
  return (props: any) => {
    const v = props.payload.value;
    const exp = Math.log10(v);
    const major = Math.abs(exp - Math.round(exp)) < 1e-6;
    return (
      <g>
        <line x1={props.x} x2={props.x} y1={props.y} y2={props.y + (major ? 4 : 2.5)} stroke="#000" strokeWidth={0.9} />
        {major && labels && (
          <text x={props.x} y={props.y + 20} textAnchor="middle" fontSize={13.5} fill={INK} fontFamily={FONT}>
            <tspan>10</tspan>
            <tspan dy={-5} fontSize={9.5}>
              {String(Math.round(exp)).replace("-", "−")}
            </tspan>
          </text>
        )}
      </g>
    );
  };
}

const squareDot = (props: any) => (
  <rect key={props.index} x={props.cx - 4} y={props.cy - 4} width={8} height={8} fill={PURPLE} stroke={PURPLE} strokeOpacity={0.35} strokeWidth={1} />
);

function SeriesLegend() {
  const items = [
    { name: "Forward", color: GREEN, square: false },
    { name: "Backward", color: PURPLE, square: true },
  ];
  return (
    <div style={{ fontFamily: FONT }}>
      {items.map((item) => (
        <div key={item.name} style={{ display: "flex", alignItems: "center", height: 20.5, fontSize: 13.5, color: INK }}>
          <svg width={39} height={16}>
            <line x1={0} x2={30} y1={8} y2={8} stroke={item.color} strokeWidth={2} />
            {item.square ? <rect x={11} y={4} width={8} height={8} fill={item.color} /> : <circle cx={15} cy={8} r={3.7} fill={item.color} />}
          </svg>
          {item.name}
        </div>
      ))}
    </div>
  );
}

function WaitingPanel({ top, height, bottomHeight, forward, backward, domain, ticks, format, labels, legend }: any) {
  const rows = waitingTimes.map((x, i) => ({ x, forward: forward[i], backward: backward[i] }));
  return (
    <div style={{ position: "absolute", left: 60, top }}>
      <LineChart width={410} height={height} data={rows} margin={{ top: 6, right: 10, bottom: 0, left: 0 }}>
        <XAxis dataKey="x" type="number" scale="log" domain={[1.187, 184900]} allowDataOverflow ticks={waitingTicks} interval={0} height={bottomHeight} tickLine={false} tickSize={0} tickMargin={0} axisLine={{ stroke: "#000" }} tick={logTick(labels)} />
        <YAxis width={69} type="number" domain={domain} allowDataOverflow ticks={ticks} interval={0} tickFormatter={format} tickSize={4} tickMargin={4} tick={{ fontSize: 13.5, fill: INK, fontFamily: FONT }} stroke="#000" />
        <ReferenceArea x1={1.187} x2={184900} y1={domain[0]} y2={domain[1]} fill="none" stroke="#000" strokeWidth={1} />
        <Line dataKey="forward" stroke={GREEN} strokeWidth={2} dot={{ r: 3.7, fill: GREEN, stroke: GREEN, strokeOpacity: 0.35, strokeWidth: 1 }} activeDot={false} isAnimationActive={false} />
        <Line dataKey="backward" stroke={PURPLE} strokeWidth={2} dot={squareDot} activeDot={false} isAnimationActive={false} />
        {legend && <Legend layout="vertical" align="center" verticalAlign="middle" wrapperStyle={{ left: 80, top: 14, width: 130 }} content={<SeriesLegend />} />}
      </LineChart>
    </div>
  );
}

function ResolutionPanel({ top, height, bottomHeight, values, domain, ticks, format, labels }: any) {
  const rows = resolutions.map((x, i) => ({ x, value: values[i] }));
  return (
    <div style={{ position: "absolute", left: 1001, top }}>
      <LineChart width={384} height={height} data={rows} margin={{ top: 4, right: 3, bottom: 0, left: 0 }}>
        <XAxis dataKey="x" type="number" scale="log" domain={[0.0251, 7.11]} allowDataOverflow ticks={resolutionTicks} interval={0} height={bottomHeight} tickLine={false} tickSize={0} tickMargin={0} axisLine={{ stroke: "#000" }} tick={logTick(labels)} />
        <YAxis width={50.3} type="number" domain={domain} allowDataOverflow ticks={ticks} interval={0} tickFormatter={format} tickSize={4} tickMargin={4} tick={{ fontSize: 13.5, fill: INK, fontFamily: FONT }} stroke="#000" />
        <ReferenceArea x1={0.0251} x2={7.11} y1={domain[0]} y2={domain[1]} fill="none" stroke="#000" strokeWidth={1} />
        <Line dataKey="value" stroke={PURPLE} strokeWidth={2} dot={{ r: 3.8, fill: PURPLE, stroke: PURPLE, strokeOpacity: 0.35, strokeWidth: 1 }} activeDot={false} isAnimationActive={false} />
      </LineChart>
    </div>
  );
}

function TimelinePanel() {
  // each block becomes one stacked bar, with a see-through bar for the gap above it
  const layerCount = Math.max(...slotBlocks.map((s) => s.length)) * 2;
  const rows = slotBlocks.map((blocks, slot) => {
    const row: any = { slot };
    let end = 43;
    blocks.forEach((b, i) => {
      row[`s${i * 2}`] = b[1] - end;
      row[`s${i * 2 + 1}`] = b[2] - b[1];
      row[`c${i * 2 + 1}`] = classColors[b[0]];
      end = b[2];
    });
    return row;
  });
  const slotTick = (props: any) => {
    const label = slotLabels[props.payload.value];
    return (
      <g>
        <line x1={props.x} x2={props.x} y1={props.y} y2={props.y + 4} stroke="#000" strokeWidth={0.9} />
        {props.index === 8 && <line x1={props.x + 12} x2={props.x + 12} y1={props.y} y2={props.y + 7} stroke="#000" strokeWidth={1.6} />}
        {label && (
          <text x={props.x} y={props.y + 19} textAnchor="middle" fontSize={13.5} fill={INK} fontFamily={FONT}>
            {label}
          </text>
        )}
      </g>
    );
  };
  return (
    <div style={{ position: "absolute", left: 541, top: 502.3 }}>
      <ComposedChart width={436} height={322} data={rows} barCategoryGap={0} barGap={0} margin={{ top: 2, right: 2, bottom: 0, left: 2 }}>
        <XAxis dataKey="slot" type="category" height={28} interval={0} tickLine={false} tickSize={0} tickMargin={0} axisLine={false} tick={slotTick} />
        <YAxis reversed type="number" domain={[0, 875]} allowDataOverflow hide />
        {Array.from({ length: layerCount }, (_, k) => (
          <Bar key={k} dataKey={`s${k}`} stackId="a" isAnimationActive={false}>
            {rows.map((row: any, i: number) => (
              <Cell key={i} fill={row[`c${k}`] ?? "none"} stroke={row[`c${k}`] ?? "none"} strokeWidth={0.3} />
            ))}
          </Bar>
        ))}
        <ReferenceArea x1={0} x2={17} y1={0} y2={875} fill="none" stroke="#000" strokeWidth={1} />
        <ReferenceLine x={8} position="end" stroke="#000" strokeWidth={2} strokeDasharray="7 5" />
      </ComposedChart>
    </div>
  );
}

function StudentPanel() {
  const quadrants = [hNorthWest, hNorthEast, hSouthWest, hSouthEast];
  const place = (q: any, p: number[]) => [q.origin[0] + p[0] / 3, q.origin[0] + p[1] / 3, q.origin[1] + p[2] / 3, q.origin[1] + p[3] / 3];
  const patch = (key: string, fill: string, b: number[]) => (
    <ReferenceArea key={key} x1={b[0]} x2={b[1]} y1={b[2]} y2={b[3]} fill={fill} fillOpacity={1} stroke="none" ifOverflow="hidden" />
  );
  return (
    <div style={{ position: "absolute", left: 980, top: 481.3 }}>
      <ComposedChart width={405} height={340} data={[{ t: 1 }]} margin={{ top: 2, right: 0, bottom: 0, left: 0 }}>
        <XAxis dataKey="t" type="number" domain={[0.7, 333]} allowDataOverflow ticks={hTimeTicks} interval={0} height={26.7} tickFormatter={(v: number) => hTimeLabels[hTimeTicks.indexOf(v)]} tickSize={4} tickMargin={2} tick={{ fontSize: 13.5, fill: INK, fontFamily: FONT }} stroke="#000" />
        <YAxis width={72.7} reversed type="number" domain={[0.3, 312]} allowDataOverflow ticks={hRowTicks} interval={0} tickFormatter={(v: number) => hRowLabels[hRowTicks.indexOf(v)]} tickSize={4} tickMargin={4} tick={{ fontSize: 14.5, fill: INK, fontFamily: FONT }} stroke="#000" />
        {hBlocks.map((b, i) => patch(`b${i}`, classColors[b[0]], b.slice(1) as number[]))}
        {quadrants.map((q, n) => q.white.map((p, i) => patch(`w${n}-${i}`, "#fff", place(q, p))))}
        {quadrants.map((q, n) => q.tinted.map((p, i) => patch(`t${n}-${i}`, classColors[p[0]], place(q, p.slice(1) as number[]))))}
        <ReferenceArea x1={0.7} x2={333} y1={0.3} y2={312} fill="none" stroke="#000" strokeWidth={1} />
        <ReferenceLine x={165.4} stroke="#000" strokeWidth={2} strokeDasharray="7 3" />
      </ComposedChart>
    </div>
  );
}

export default function App() {
  return (
    <div style={{ position: "absolute", left: 0, top: 0, width: 1385, height: 840, overflow: "hidden", background: "#fff", fontFamily: FONT }}>
      {/* class legend */}
      {classes.map((c, i) => {
        const y = [65, 103, 141, 178, 216, 253, 291, 328, 366, 403, 441][i];
        return (
          <React.Fragment key={c}>
            <Note x={33} y={y - 5} size={11} color="#111">
              {c === "T" ? "Teachers" : c}
            </Note>
            <div style={{ position: "absolute", left: 22, top: y, width: 22, height: 22, background: classColors[c] }} />
          </React.Fragment>
        );
      })}

      <Alluvial left={37.3} flows={flowsA} modulesLeft={modulesLeftA} modulesRight={modulesRightA} labelsLeft={labelsLeftA} labelsRight={labelsRightA} labelShift={8.7} />
      <Alluvial left={505.7} flows={flowsB} modulesLeft={modulesLeftB} modulesRight={modulesRightB} labelsLeft={labelsLeftB} labelsRight={labelsRightB} labelShift={8.5} />
      <Note x={118.5} y={40} size={14} color="#555">Forward</Note>
      <Note x={443.5} y={40} size={14} color="#555">Backward</Note>
      <Note x={587} y={40} size={14} color="#555">Forward</Note>
      <Note x={911} y={40} size={14} color="#555">Backward</Note>
      <Note x={282} y={458} size={16}><Tau value="1 h" /></Note>
      <Note x={751} y={458} size={16}><Tau value="63 s" /></Note>

      <WaitingPanel top={480} height={160} bottomHeight={9} forward={nviForward} backward={nviBackward} domain={[-0.0027, 0.0589]} ticks={[0, 0.02, 0.04]} format={(v: number) => v.toFixed(2)} labels={false} legend />
      <WaitingPanel top={648} height={192} bottomHeight={42} forward={clustersForward} backward={clustersBackward} domain={[6.35, 74.9]} ticks={[20, 40, 60]} format={(v: number) => String(v)} labels />
      <Note x={81} y={560} rotate={-90}>Norm. var. inf.</Note>
      <Note x={81} y={727} rotate={-90}>Number of clusters</Note>
      <Note x={282} y={833}>
        Waiting time τ<sub style={{ fontSize: "0.65em", verticalAlign: "-0.25em" }}>w</sub> (s)
      </Note>

      <TimelinePanel />
      <Note x={651} y={827}>1st day</Note>
      <Note x={867} y={827}>2nd day</Note>

      <ResolutionPanel top={61.7} height={155.6} bottomHeight={8} values={resolutionNvi} domain={[0.0153, 0.2645]} ticks={[0.05, 0.1, 0.15, 0.2, 0.25]} format={(v: number) => v.toFixed(2)} labels={false} />
      <ResolutionPanel top={229.3} height={172} bottomHeight={24} values={resolutionClusters} domain={[-4.5, 125.6]} ticks={[0, 50, 100]} format={(v: number) => String(v)} labels />
      <Note x={1003} y={138} rotate={-90}>Norm. var. inf.</Note>
      <Note x={1007} y={307} rotate={-90}>Number of clusters</Note>
      <Note x={1214} y={409}>Resolution</Note>

      <StudentPanel />
      <Note x={1221} y={471}>Resolution = 0.28</Note>

      {[["A", 64, 22], ["B", 531, 22], ["C", 64, 493], ["D", 64, 653], ["E", 531, 491], ["F", 995, 42], ["G", 996, 235], ["H", 1021, 462]].map(([t, x, y]) => (
        <Note key={t as string} x={x} y={y} size={23} bold color="#000">{t}</Note>
      ))}
    </div>
  );
}
